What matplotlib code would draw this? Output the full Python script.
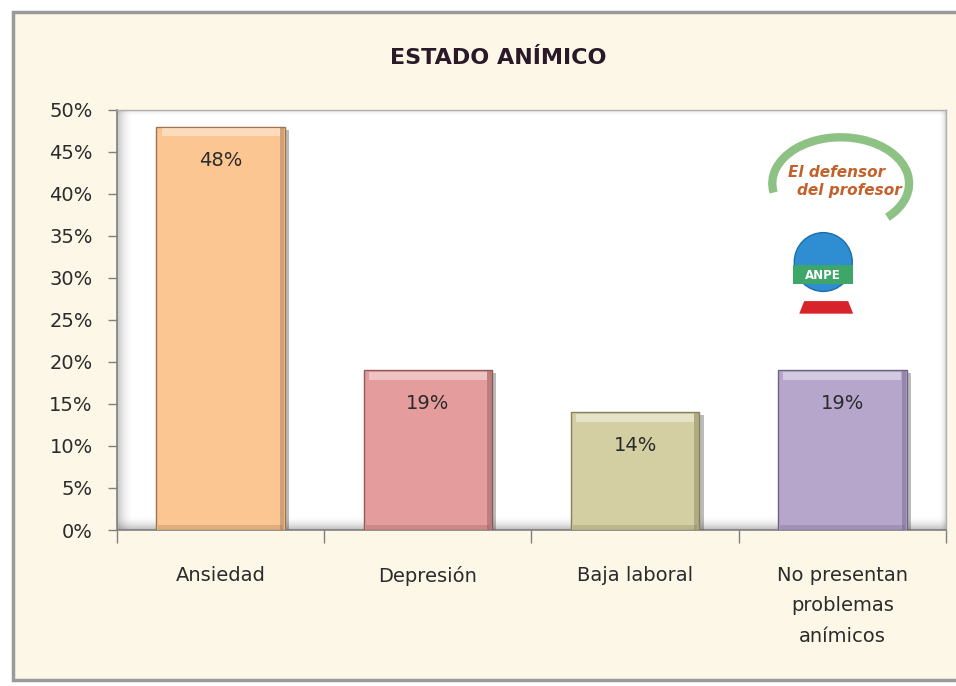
import matplotlib
matplotlib.use("Agg")
import matplotlib.pyplot as plt
import numpy as np
from matplotlib.patches import Rectangle, Ellipse, Arc, Polygon
from matplotlib import patheffects as pe

# chart data
categories = ["Ansiedad", "Depresión", "Baja laboral", "No presentan\nproblemas\nanímicos"]
values = [0.48, 0.19, 0.14, 0.19]
value_labels = ["48%", "19%", "14%", "19%"]
y_ticks = [0.0, 0.05, 0.10, 0.15, 0.20, 0.25, 0.30, 0.35, 0.40, 0.45, 0.50]
title = "ESTADO ANÍMICO"

bar_colors = ["#FCC692", "#E59C9C", "#D3CFA3", "#B6A6CC"]
edge_colors = ["#9C7550", "#8E5A5A", "#85815C", "#6E6285"]
text_color = "#2B2B2B"

fig = plt.figure(figsize=(9.56, 6.86), dpi=100)
fig.patch.set_facecolor("white")

# outer chart frame (cream background)
frame = Rectangle((0.0136, 0.0087), 1.0, 0.974, transform=fig.transFigure,
                  facecolor="#FDF7E8", edgecolor="#9A9A9A", linewidth=2.5, zorder=-10)
fig.patches.append(frame)

ax = fig.add_axes([0.1224, 0.2274, 0.8671, 0.6123])
ax.set_facecolor("white")

x = np.arange(len(categories))
bw = 0.62
bars = ax.bar(x, values, width=bw, color=bar_colors, edgecolor=edge_colors,
              linewidth=1.0, zorder=3)
for b in bars:
    b.set_path_effects([pe.SimplePatchShadow(offset=(3, -2), shadow_rgbFace="#555555", alpha=0.4),
                        pe.Normal()])

# bevel: light band on top, darker band on the right side
ax.bar(x, [0.009] * len(values), bottom=[v - 0.011 for v in values], width=bw - 0.05,
       color="white", alpha=0.4, linewidth=0, zorder=4)
ax.bar(x + bw / 2 - 0.013, values, width=0.022, color=edge_colors, alpha=0.45,
       linewidth=0, zorder=4)
ax.bar(x, [0.006] * len(values), width=bw - 0.02, color=edge_colors, alpha=0.3,
       linewidth=0, zorder=4)

for xi, v, lab in zip(x, values, value_labels):
    ax.annotate(lab, (xi, v), xytext=(0, -24), textcoords="offset points",
                ha="center", va="center", fontsize=14, color=text_color, zorder=5)

# inner shadow of plot area
n = 64
shade = np.zeros((1, n, 4))
shade[..., :3] = 0.35
shade[0, :, 3] = np.linspace(0.6, 0, n) ** 2
ax.imshow(shade, extent=[0, 0.02, 0, 1], transform=ax.transAxes, aspect="auto", zorder=1)
shade_b = np.zeros((n, 1, 4))
shade_b[..., :3] = 0.35
shade_b[:, 0, 3] = np.linspace(0, 0.65, n) ** 2
ax.imshow(shade_b, extent=[0, 1, 0, 0.035], transform=ax.transAxes, aspect="auto", zorder=1)
shade_r = np.zeros((1, n, 4))
shade_r[..., :3] = 0.35
shade_r[0, :, 3] = np.linspace(0, 0.5, n) ** 2
ax.imshow(shade_r, extent=[0.992, 1, 0, 1], transform=ax.transAxes, aspect="auto", zorder=1)
shade_t = np.zeros((n, 1, 4))
shade_t[..., :3] = 0.35
shade_t[:, 0, 3] = np.linspace(0.5, 0, n) ** 2
ax.imshow(shade_t, extent=[0, 1, 0.985, 1], transform=ax.transAxes, aspect="auto", zorder=1)

ax.set_xlim(-0.5, len(categories) - 0.5)
ax.set_ylim(0, 0.5)
ax.set_yticks(y_ticks)
ax.set_yticklabels([f"{t:.0%}" for t in y_ticks])
ax.set_xticks(x)
ax.set_xticklabels(categories, linespacing=1.75)
ax.set_xticks(np.arange(len(categories) + 1) - 0.5, minor=True)
ax.tick_params(axis="x", which="major", length=0, pad=26, labelsize=14, labelcolor=text_color)
ax.tick_params(axis="x", which="minor", length=9, width=1, color="#7F7F7F")
ax.tick_params(axis="y", length=6.5, width=1, color="#7F7F7F", pad=11,
               labelsize=14, labelcolor=text_color)

for side in ["left", "bottom"]:
    ax.spines[side].set_color("#7F7F7F")
    ax.spines[side].set_linewidth(1.2)
for side in ["top", "right"]:
    ax.spines[side].set_color("#B0B0B0")
    ax.spines[side].set_linewidth(1.0)

fig.text(0.521, 0.915, title, ha="center", va="center", fontsize=16,
         fontweight="bold", color="#2A1A28")

# logo "El defensor del profesor" / ANPE
ax.add_patch(Arc((0.873, 0.825), 0.165, 0.22, theta1=-55, theta2=195, transform=ax.transAxes,
                 color="#79B86E", linewidth=6, alpha=0.85, zorder=2))
ax.text(0.868, 0.852, "El defensor", transform=ax.transAxes, ha="center", va="center",
        fontsize=11, fontstyle="italic", fontweight="bold", color="#C3612C", zorder=6)
ax.text(0.884, 0.808, "del profesor", transform=ax.transAxes, ha="center", va="center",
        fontsize=11, fontstyle="italic", fontweight="bold", color="#C3612C", zorder=6)
ax.add_patch(Ellipse((0.852, 0.638), 0.07, 0.14, transform=ax.transAxes,
                     facecolor="#2F8ED2", edgecolor="#1C6FAE", linewidth=1, zorder=2))
ax.add_patch(Rectangle((0.816, 0.585), 0.072, 0.045, transform=ax.transAxes,
                       facecolor="#3FA66A", edgecolor="none", zorder=3))
ax.text(0.852, 0.607, "ANPE", transform=ax.transAxes, ha="center", va="center",
        fontsize=8.5, fontweight="bold", color="white", zorder=6)
ax.add_patch(Polygon([(0.823, 0.515), (0.888, 0.515), (0.882, 0.545), (0.829, 0.545)],
                     closed=True, transform=ax.transAxes, facecolor="#D8232A",
                     edgecolor="none", zorder=3))

fig.savefig("out.png", dpi=100, facecolor=fig.get_facecolor())
